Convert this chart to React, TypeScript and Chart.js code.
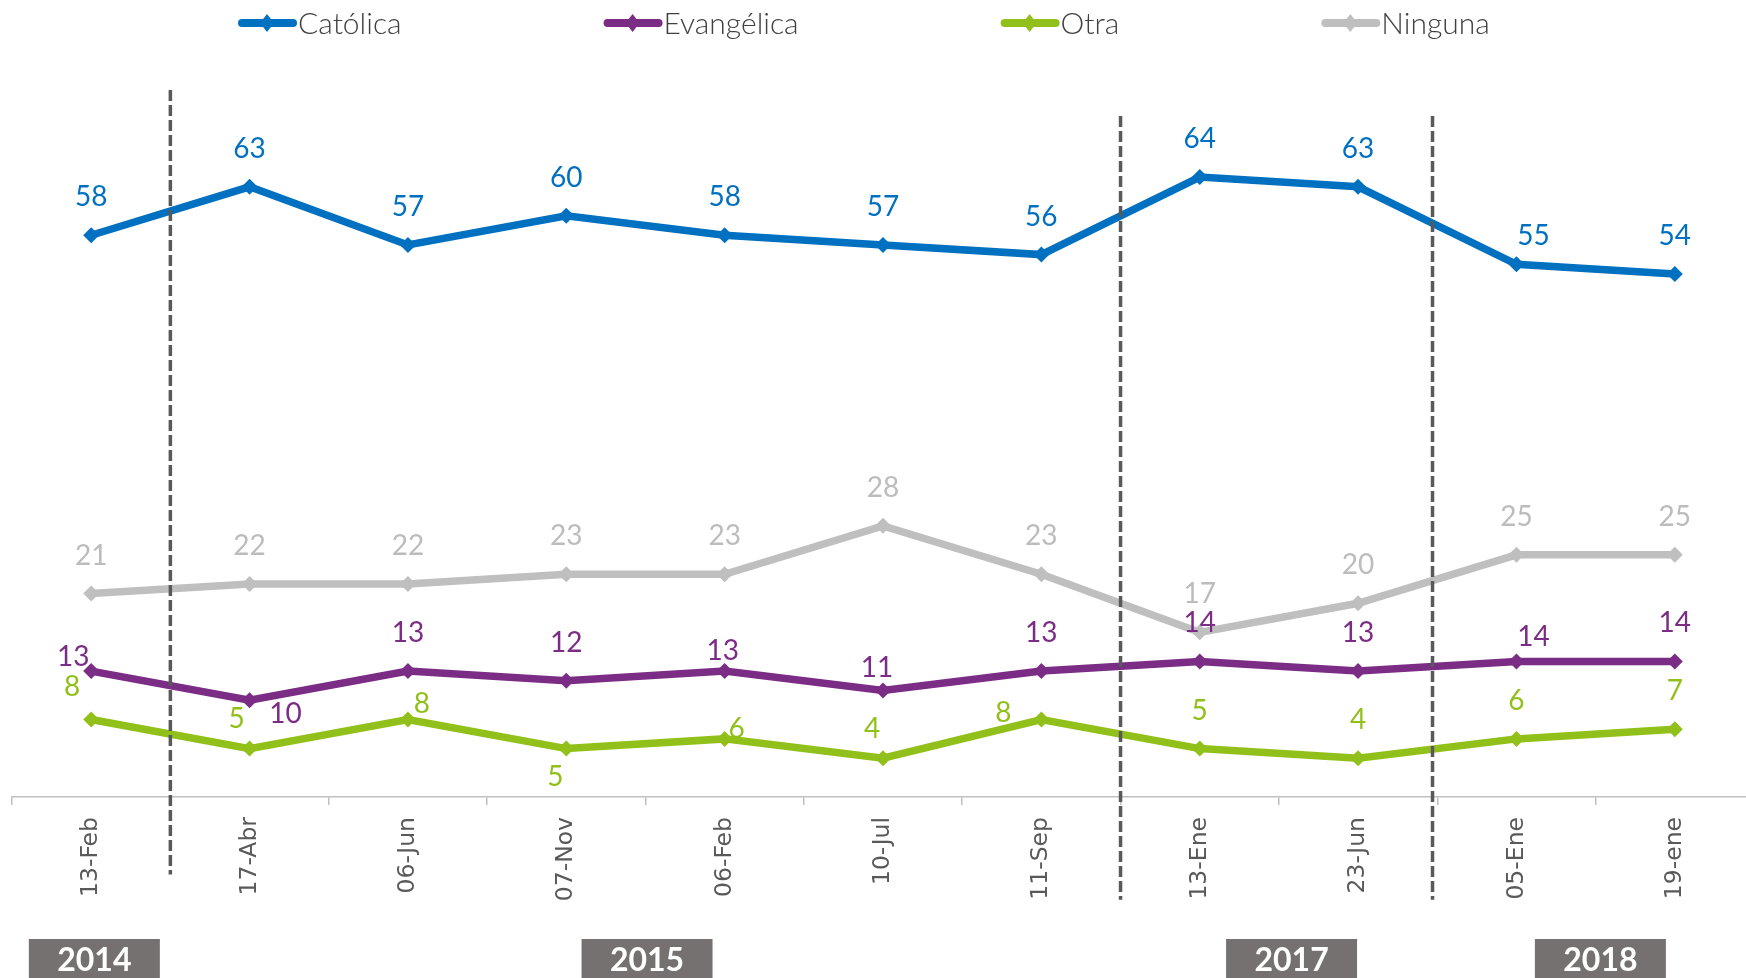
import React, { useEffect, useRef } from "react";
import { Chart, registerables } from "chart.js";

Chart.register(...registerables);

const CATEGORIES = ["13-Feb", "17-Abr", "06-Jun", "07-Nov", "06-Feb", "10-Jul", "11-Sep", "13-Ene", "23-Jun", "05-Ene", "19-ene"];
const CATOLICA = [58, 63, 57, 60, 58, 57, 56, 64, 63, 55, 54];
const EVANGELICA = [13, 10, 13, 12, 13, 11, 13, 14, 13, 14, 14];
const OTRA = [8, 5, 8, 5, 6, 4, 8, 5, 4, 6, 7];
const NINGUNA = [21, 22, 22, 23, 23, 28, 23, 17, 20, 25, 25];
const SERIES_NAMES = ["Católica", "Evangélica", "Otra", "Ninguna"];
const YEAR_LABELS = ["2014", "2015", "2017", "2018"];
const YEAR_AT_INDEX = [0.02, 3.51, 7.58, 9.53];
const DIVIDER_AT_INDEX = [0.5, 6.5, 8.47];
const DIVIDER_TOP = [73, 70.3, 70.3];
const DIVIDER_BOTTOM = [-8, -10.6, -10.6];

const COLORS = ["#0070C0", "#7B2C85", "#92C01A", "#BFBFBF"];
const LABEL_COLORS = ["#0070C0", "#7B2C85", "#92C01A", "#BCBCBC"];

// label offsets (dx, dy) in px relative to point
const A = [0, -38];
const LABEL_OFFSETS: number[][][] = [
  [A, A, A, A, A, A, A, A, A, [17, -28], A],
  [[-18, -14], [36, 14], A, A, [-2, -20], [-6, -22], A, A, A, [17, -24], A],
  [[-19, -33], [-13, -30], [14, -16], [-11, 28], [12, -10], [-11, -29], [-38, -7], A, A, A, A],
  [A, A, A, A, A, A, A, A, A, A, A],
];

const overlayPlugin = {
  id: "overlay",
  afterDatasetsDraw(chart: any) {
    const ctx = chart.ctx;
    const xs = chart.scales.x;
    const ys = chart.scales.y;
    // dividers
    ctx.save();
    ctx.strokeStyle = "#595959";
    ctx.lineWidth = 3.5;
    ctx.setLineDash([11, 4]);
    DIVIDER_AT_INDEX.forEach((v, i) => {
      const x = xs.getPixelForValue(v);
      ctx.beginPath();
      ctx.moveTo(x, ys.getPixelForValue(DIVIDER_TOP[i]));
      ctx.lineTo(x, ys.getPixelForValue(DIVIDER_BOTTOM[i]));
      ctx.stroke();
    });
    ctx.restore();
    // data labels
    ctx.save();
    ctx.font = "28px Lato";
    ctx.textAlign = "center";
    ctx.textBaseline = "middle";
    chart.data.datasets.forEach((ds: any, di: number) => {
      const meta = chart.getDatasetMeta(di);
      ctx.fillStyle = LABEL_COLORS[di];
      meta.data.forEach((pt: any, i: number) => {
        const off = LABEL_OFFSETS[di][i];
        ctx.fillText(String(ds.data[i]), pt.x + off[0], pt.y + off[1]);
      });
    });
    ctx.restore();
  },
  afterDraw(chart: any) {
    const ctx = chart.ctx;
    const xs = chart.scales.x;
    // year boxes
    ctx.save();
    const bw = 131;
    const top = 939;
    YEAR_LABELS.forEach((lab, i) => {
      const cx = xs.getPixelForValue(YEAR_AT_INDEX[i]);
      ctx.fillStyle = "#767171";
      ctx.fillRect(cx - bw / 2, top, bw, chart.height - top + 10);
      ctx.fillStyle = "#ffffff";
      ctx.font = "bold 32px Lato";
      ctx.textAlign = "center";
      ctx.textBaseline = "middle";
      ctx.fillText(lab, cx, top + 22);
    });
    ctx.restore();
    // legend
    ctx.save();
    ctx.font = "300 30px Lato";
    ctx.textBaseline = "middle";
    ctx.textAlign = "left";
    const y = 23;
    let x = 238;
    const gap = 202;
    SERIES_NAMES.forEach((name, i) => {
      ctx.strokeStyle = COLORS[i];
      ctx.fillStyle = COLORS[i];
      ctx.lineWidth = 8;
      ctx.lineCap = "round";
      ctx.beginPath();
      ctx.moveTo(x + 4, y);
      ctx.lineTo(x + 55, y);
      ctx.stroke();
      ctx.beginPath();
      ctx.moveTo(x + 29, y - 9);
      ctx.lineTo(x + 36, y);
      ctx.lineTo(x + 29, y + 9);
      ctx.lineTo(x + 22, y);
      ctx.closePath();
      ctx.fill();
      ctx.fillStyle = "#404040";
      ctx.fillText(name, x + 60, y + 1);
      x += 60 + ctx.measureText(name).width + gap;
    });
    ctx.restore();
  },
};

export default function App() {
  const ref = useRef<HTMLCanvasElement>(null);
  useEffect(() => {
    document.body.style.margin = "0";
    const seriesData = [CATOLICA, EVANGELICA, OTRA, NINGUNA];
    const chart = new Chart(ref.current!, {
      type: "line",
      data: {
        labels: CATEGORIES,
        datasets: seriesData.map((d, i) => ({
          label: SERIES_NAMES[i],
          data: d,
          borderColor: COLORS[i],
          backgroundColor: COLORS[i],
          borderWidth: 7.5,
          pointStyle: "rectRot",
          pointRadius: 8,
          pointBorderWidth: 0,
          pointBackgroundColor: COLORS[i],
          tension: 0,
        })),
      },
      options: {
        responsive: false,
        animation: false,
        layout: { padding: { left: 12, right: 0, top: 119, bottom: 0 } },
        plugins: { legend: { display: false }, tooltip: { enabled: false } },
        scales: {
          x: {
            offset: true,
            afterFit: (scale: any) => {
              scale.height = 181;
            },
            grid: {
              display: true,
              drawOnChartArea: false,
              drawTicks: true,
              tickLength: 8,
              color: "#BFBFBF",
              lineWidth: 1.5,
              offset: true,
            },
            border: { display: true, color: "#BFBFBF", width: 1.5 },
            ticks: {
              minRotation: 90,
              maxRotation: 90,
              autoSkip: false,
              padding: 12,
              color: "#595959",
              font: { family: "DejaVu Sans", size: 23.5 },
            },
          },
          y: {
            display: false,
            min: 0,
            max: 70,
          },
        },
      },
      plugins: [overlayPlugin],
    });
    return () => chart.destroy();
  }, []);
  return (
    <div style={{ width: 1746, height: 978, overflow: "hidden", position: "relative" }}>
      <canvas ref={ref} width={1762} height={978} style={{ display: "block" }} />
    </div>
  );
}
